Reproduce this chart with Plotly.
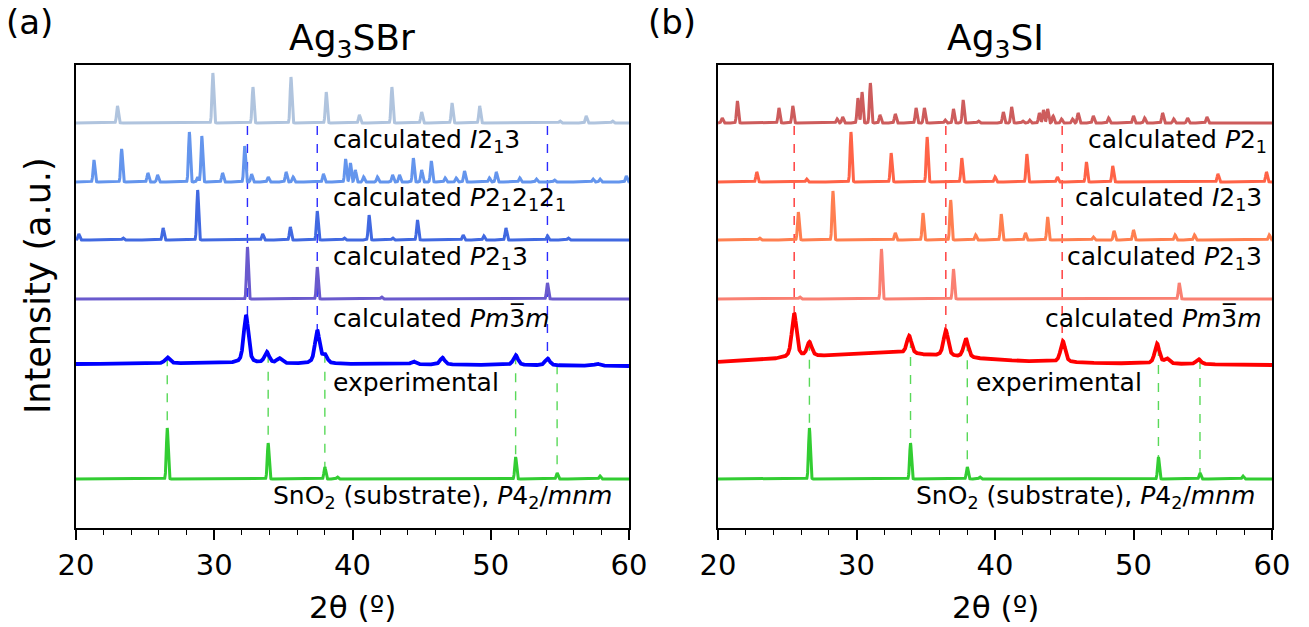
import numpy as np
import plotly.graph_objects as go

# ---------------- data (2theta in degrees, intensities in arbitrary units) ----------------
X_MIN, X_MAX = 20, 60
xticks = [20, 30, 40, 50, 60]

# Panel (a) Ag3SBr
a_I213_pos = [23.0, 29.9, 32.8, 35.55, 38.1, 40.5, 42.85, 45.0, 47.2, 49.2, 55.0, 56.9, 58.8]
a_I213_int = [17, 50, 36, 46, 31, 8, 36, 11, 20, 17, 2, 7, 2]
a_P212121_pos = [21.3, 23.3, 25.2, 25.9, 28.2, 28.8, 29.1, 30.6, 32.2, 32.7, 33.9, 35.2, 35.7, 37.9,
                 39.5, 39.85, 40.2, 40.8, 41.8, 42.9, 43.4, 44.4, 45.0, 45.7, 46.7, 47.5, 48.1,
                 49.9, 50.4, 52.1, 53.3, 54.6, 57.4, 57.9, 59.8]
a_P212121_int = [22, 33, 9, 7, 50, 5, 46, 9, 36, 8, 5, 10, 5, 8,
                 23, 19, 12, 5, 5, 7, 7, 24, 12, 21, 4, 4, 11,
                 4, 10, 4, 3, 2, 3, 3, 6]
a_P213_pos = [20.2, 23.4, 26.3, 28.8, 33.5, 35.5, 37.45, 39.4, 41.2, 42.9, 44.7, 48.0, 49.5, 51.1, 54.1, 55.6]
a_P213_int = [6, 2, 12, 50, 6, 13, 29, 2, 25, 2, 20, 5, 4, 12, 4, 2]
a_Pm3m_pos = [32.4, 37.45, 42.1, 54.1]
a_Pm3m_int = [52, 32, 2, 16]
a_exp_pos = [26.6, 32.3, 33.8, 34.7, 37.45, 38.0, 44.4, 46.5, 51.8, 54.1, 57.7]
a_exp_int = [6, 48, 11, 5, 33, 8, 3, 7, 10, 7, 2]
a_exp_bg_x = [20, 30, 40, 50, 60]
a_exp_bg_y = [164, 165, 164, 163, 162]

# SnO2 substrate (both panels)
sno2_pos = [26.6, 33.9, 38.0, 38.9, 51.8, 54.8, 57.9]
sno2_int = [51, 36, 12, 2, 22, 6, 3]

# Panel (b) Ag3SI
b_P21_pos = [20.3, 21.4, 24.4, 25.4, 28.6, 29.0, 30.1, 30.4, 31.0, 31.7, 32.8, 34.3, 34.9, 36.4, 37.0,
             37.7, 38.8, 40.6, 41.2, 42.0, 42.5, 43.2, 43.5, 43.8, 44.2, 44.8, 45.6, 46.0, 47.1,
             48.2, 50.0, 50.8, 52.1, 52.9, 53.9, 55.3]
b_P21_int = [5, 22, 15, 17, 4, 6, 25, 31, 40, 8, 9, 15, 15, 3, 14,
             23, 2, 11, 16, 2, 3, 10, 13, 14, 7, 4, 4, 10, 7,
             5, 7, 5, 10, 4, 5, 6]
b_I213_pos = [22.8, 26.4, 29.6, 32.5, 35.1, 37.6, 40.0, 42.3, 44.5, 46.6, 48.5, 56.1, 59.6]
b_I213_int = [10, 3, 50, 29, 45, 24, 5, 28, 5, 20, 16, 8, 10]
b_P213_pos = [23.0, 25.8, 28.3, 32.8, 34.8, 36.8, 38.6, 40.45, 42.2, 43.8, 47.1, 48.6, 50.0, 53.0, 54.4, 59.8]
b_P213_int = [2, 28, 49, 7, 27, 40, 5, 26, 7, 23, 3, 9, 10, 5, 5, 5]
b_Pm3m_pos = [25.9, 31.8, 37.0, 53.3]
b_Pm3m_int = [2, 50, 30, 16]
b_exp_pos = [25.5, 26.6, 33.8, 36.45, 37.9, 44.9, 51.7, 52.4, 54.7]
b_exp_int = [44, 14, 18, 26, 19, 21, 20, 5, 5]
b_exp_bg_x = [20, 23, 26, 30, 33, 35, 38, 42, 47, 53, 60]
b_exp_bg_y = [166, 168, 171, 174, 175, 173, 170, 167, 165, 164, 163]

# vertical offsets of the stacked patterns
offsets = {"top": 405, "second": 346, "third": 288, "fourth": 229, "sub": 49}

# guide lines
a_guide_pos = [32.4, 37.45, 54.1]
b_guide_pos = [25.5, 36.45, 44.85]
sub_guide_pos = [26.6, 33.9, 38.0, 51.8, 54.8]

# ---------------- build curves ----------------
x = np.linspace(X_MIN, X_MAX, 8001)


def profile(pos, ints, fwhm, eta=0.0):
    y = np.zeros_like(x)
    for p, h in zip(pos, ints):
        g = np.exp(-4 * np.log(2) * (x - p) ** 2 / fwhm ** 2)
        lz = 1.0 / (1.0 + 4 * (x - p) ** 2 / fwhm ** 2)
        y += h * ((1 - eta) * g + eta * lz)
    return y


CALC_W = 0.15
EXP_W = 0.4

curves_a = [
    (offsets["top"] + profile(a_I213_pos, a_I213_int, CALC_W), "#B0C4DE", 3),
    (offsets["second"] + profile(a_P212121_pos, a_P212121_int, CALC_W), "#6495ED", 3),
    (offsets["third"] + profile(a_P213_pos, a_P213_int, CALC_W), "#4169E1", 3),
    (offsets["fourth"] + profile(a_Pm3m_pos, a_Pm3m_int, CALC_W), "#6A5ACD", 3),
]
a_exp = np.interp(x, a_exp_bg_x, a_exp_bg_y) + profile(a_exp_pos, a_exp_int, EXP_W, 0.5)
sub_curve = offsets["sub"] + profile(sno2_pos, sno2_int, CALC_W)
curves_a += [(a_exp, "#0000FF", 3.8), (sub_curve, "#32CD32", 3)]

curves_b = [
    (offsets["top"] + profile(b_P21_pos, b_P21_int, CALC_W), "#CD5C5C", 3),
    (offsets["second"] + profile(b_I213_pos, b_I213_int, CALC_W), "#FF6347", 3),
    (offsets["third"] + profile(b_P213_pos, b_P213_int, CALC_W), "#FF7F50", 3),
    (offsets["fourth"] + profile(b_Pm3m_pos, b_Pm3m_int, CALC_W), "#FA8072", 3),
]
b_exp = np.interp(x, b_exp_bg_x, b_exp_bg_y) + profile(b_exp_pos, b_exp_int, EXP_W, 0.5)
curves_b += [(b_exp, "#FF0000", 3.8), (sub_curve, "#32CD32", 3)]

fig = go.Figure()

FONT = "DejaVu Sans"


def add_guides(xa, ya, positions, y_top_vals, y_bot_vals, color):
    for p, yt, yb in zip(positions, y_top_vals, y_bot_vals):
        fig.add_trace(go.Scatter(x=[p, p], y=[yt, yb], mode="lines", xaxis=xa, yaxis=ya,
                                 line=dict(color=color, width=1.4, dash="dash"),
                                 showlegend=False, hoverinfo="skip"))


# guide lines panel a
add_guides("x", "y", a_guide_pos, [offsets["top"] - 3] * 3,
           [np.interp(p, x, a_exp) for p in a_guide_pos], "rgba(20,20,255,0.9)")
add_guides("x", "y", sub_guide_pos, [np.interp(p, x, a_exp) for p in sub_guide_pos],
           [np.interp(p, x, sub_curve) for p in sub_guide_pos], "rgba(60,210,60,0.85)")
# guide lines panel b
add_guides("x2", "y2", b_guide_pos, [offsets["top"] - 3] * 3,
           [np.interp(p, x, b_exp) for p in b_guide_pos], "rgba(255,30,30,0.9)")
add_guides("x2", "y2", sub_guide_pos, [np.interp(p, x, b_exp) for p in sub_guide_pos],
           [np.interp(p, x, sub_curve) for p in sub_guide_pos], "rgba(60,210,60,0.85)")

for y, c, w in curves_a:
    fig.add_trace(go.Scatter(x=x, y=y, mode="lines", xaxis="x", yaxis="y",
                             line=dict(color=c, width=w), showlegend=False, hoverinfo="skip"))
for y, c, w in curves_b:
    fig.add_trace(go.Scatter(x=x, y=y, mode="lines", xaxis="x2", yaxis="y2",
                             line=dict(color=c, width=w), showlegend=False, hoverinfo="skip"))

W, H = 1309, 627
ybot, ytop = 1 - 528 / H, 1 - 65 / H
Y_RANGE = [0, 463]

xaxis_common = dict(range=[X_MIN, X_MAX], tickvals=xticks, ticks="outside", ticklen=10, tickwidth=1.6,
                    tickcolor="black", showline=True, linecolor="black", linewidth=2, mirror=True,
                    showgrid=False, zeroline=False, automargin=False,
                    tickfont=dict(family=FONT, size=29, color="black"),
                    minor=dict(dtick=2, tick0=20, ticks="outside", ticklen=5, tickwidth=1.3,
                               tickcolor="black", showgrid=False))
yaxis_common = dict(range=Y_RANGE, showticklabels=False, ticks="", showline=True, linecolor="black",
                    linewidth=2, mirror=True, showgrid=False, zeroline=False, automargin=False)

fig.update_layout(
    width=W, height=H, margin=dict(l=0, r=0, t=0, b=0, autoexpand=False),
    paper_bgcolor="white", plot_bgcolor="white",
    xaxis=dict(domain=[76 / W, 629 / W], anchor="y", **xaxis_common),
    yaxis=dict(domain=[ybot, ytop], anchor="x", **yaxis_common),
    xaxis2=dict(domain=[718 / W, 1272 / W], anchor="y2", **xaxis_common),
    yaxis2=dict(domain=[ybot, ytop], anchor="x2", **yaxis_common),
)

LBL = dict(family=FONT, size=25, color="black")


def label(xref, yref, xv, yv, text, anchor):
    fig.add_annotation(x=xv, y=yv, xref=xref, yref=yref, text=text, showarrow=False,
                       xanchor=anchor, yanchor="middle", font=LBL)


# panel a labels
label("x", "y", 38.45, 387, "calculated <i>I</i>2<sub>1</sub>3", "left")
label("x", "y", 38.45, 329, "calculated <i>P</i>2<sub>1</sub>2<sub>1</sub>2<sub>1</sub>", "left")
label("x", "y", 38.45, 270, "calculated <i>P</i>2<sub>1</sub>3", "left")
label("x", "y", 38.45, 210, "calculated <i>Pm</i>3\u0305<i>m</i>", "left")
label("x", "y", 38.45, 146, "experimental", "left")
label("x", "y", 58.9, 31, "SnO<sub>2</sub> (substrate), <i>P</i>4<sub>2</sub>/<i>mnm</i>", "right")
# panel b labels
label("x2", "y2", 59.75, 387, "calculated <i>P</i>2<sub>1</sub>", "right")
label("x2", "y2", 59.4, 329, "calculated <i>I</i>2<sub>1</sub>3", "right")
label("x2", "y2", 59.4, 270, "calculated <i>P</i>2<sub>1</sub>3", "right")
label("x2", "y2", 59.4, 210, "calculated <i>Pm</i>3\u0305<i>m</i>", "right")
label("x2", "y2", 38.45, 146, "experimental", "left")
label("x2", "y2", 58.9, 31, "SnO<sub>2</sub> (substrate), <i>P</i>4<sub>2</sub>/<i>mnm</i>", "right")

# titles / panel letters / axis titles
BIG = dict(family=FONT, size=36, color="black")
fig.add_annotation(x=352 / W, y=1 - 40 / H, xref="paper", yref="paper", text="Ag<sub>3</sub>SBr",
                   showarrow=False, xanchor="center", yanchor="middle", font=BIG)
fig.add_annotation(x=995 / W, y=1 - 40 / H, xref="paper", yref="paper", text="Ag<sub>3</sub>SI",
                   showarrow=False, xanchor="center", yanchor="middle", font=BIG)
LET = dict(family=FONT, size=34, color="black")
fig.add_annotation(x=4 / W, y=1 - 22 / H, xref="paper", yref="paper", text="(a)",
                   showarrow=False, xanchor="left", yanchor="middle", font=LET)
fig.add_annotation(x=646 / W, y=1 - 22 / H, xref="paper", yref="paper", text="(b)",
                   showarrow=False, xanchor="left", yanchor="middle", font=LET)
AX = dict(family=FONT, size=31, color="black")
fig.add_annotation(x=352 / W, y=1 - 607 / H, xref="paper", yref="paper", text="2\u03b8 (\u00ba)",
                   showarrow=False, xanchor="center", yanchor="middle", font=AX)
fig.add_annotation(x=995 / W, y=1 - 607 / H, xref="paper", yref="paper", text="2\u03b8 (\u00ba)",
                   showarrow=False, xanchor="center", yanchor="middle", font=AX)
fig.add_annotation(x=38 / W, y=1 - 286 / H, xref="paper", yref="paper", text="Intensity (a.u.)",
                   textangle=-90, showarrow=False, xanchor="center", yanchor="middle",
                   font=dict(family=FONT, size=35, color="black"))

fig.write_html("out.html", config={"displayModeBar": False},
               post_script="document.body.style.margin='0';document.body.style.overflow='hidden';")
